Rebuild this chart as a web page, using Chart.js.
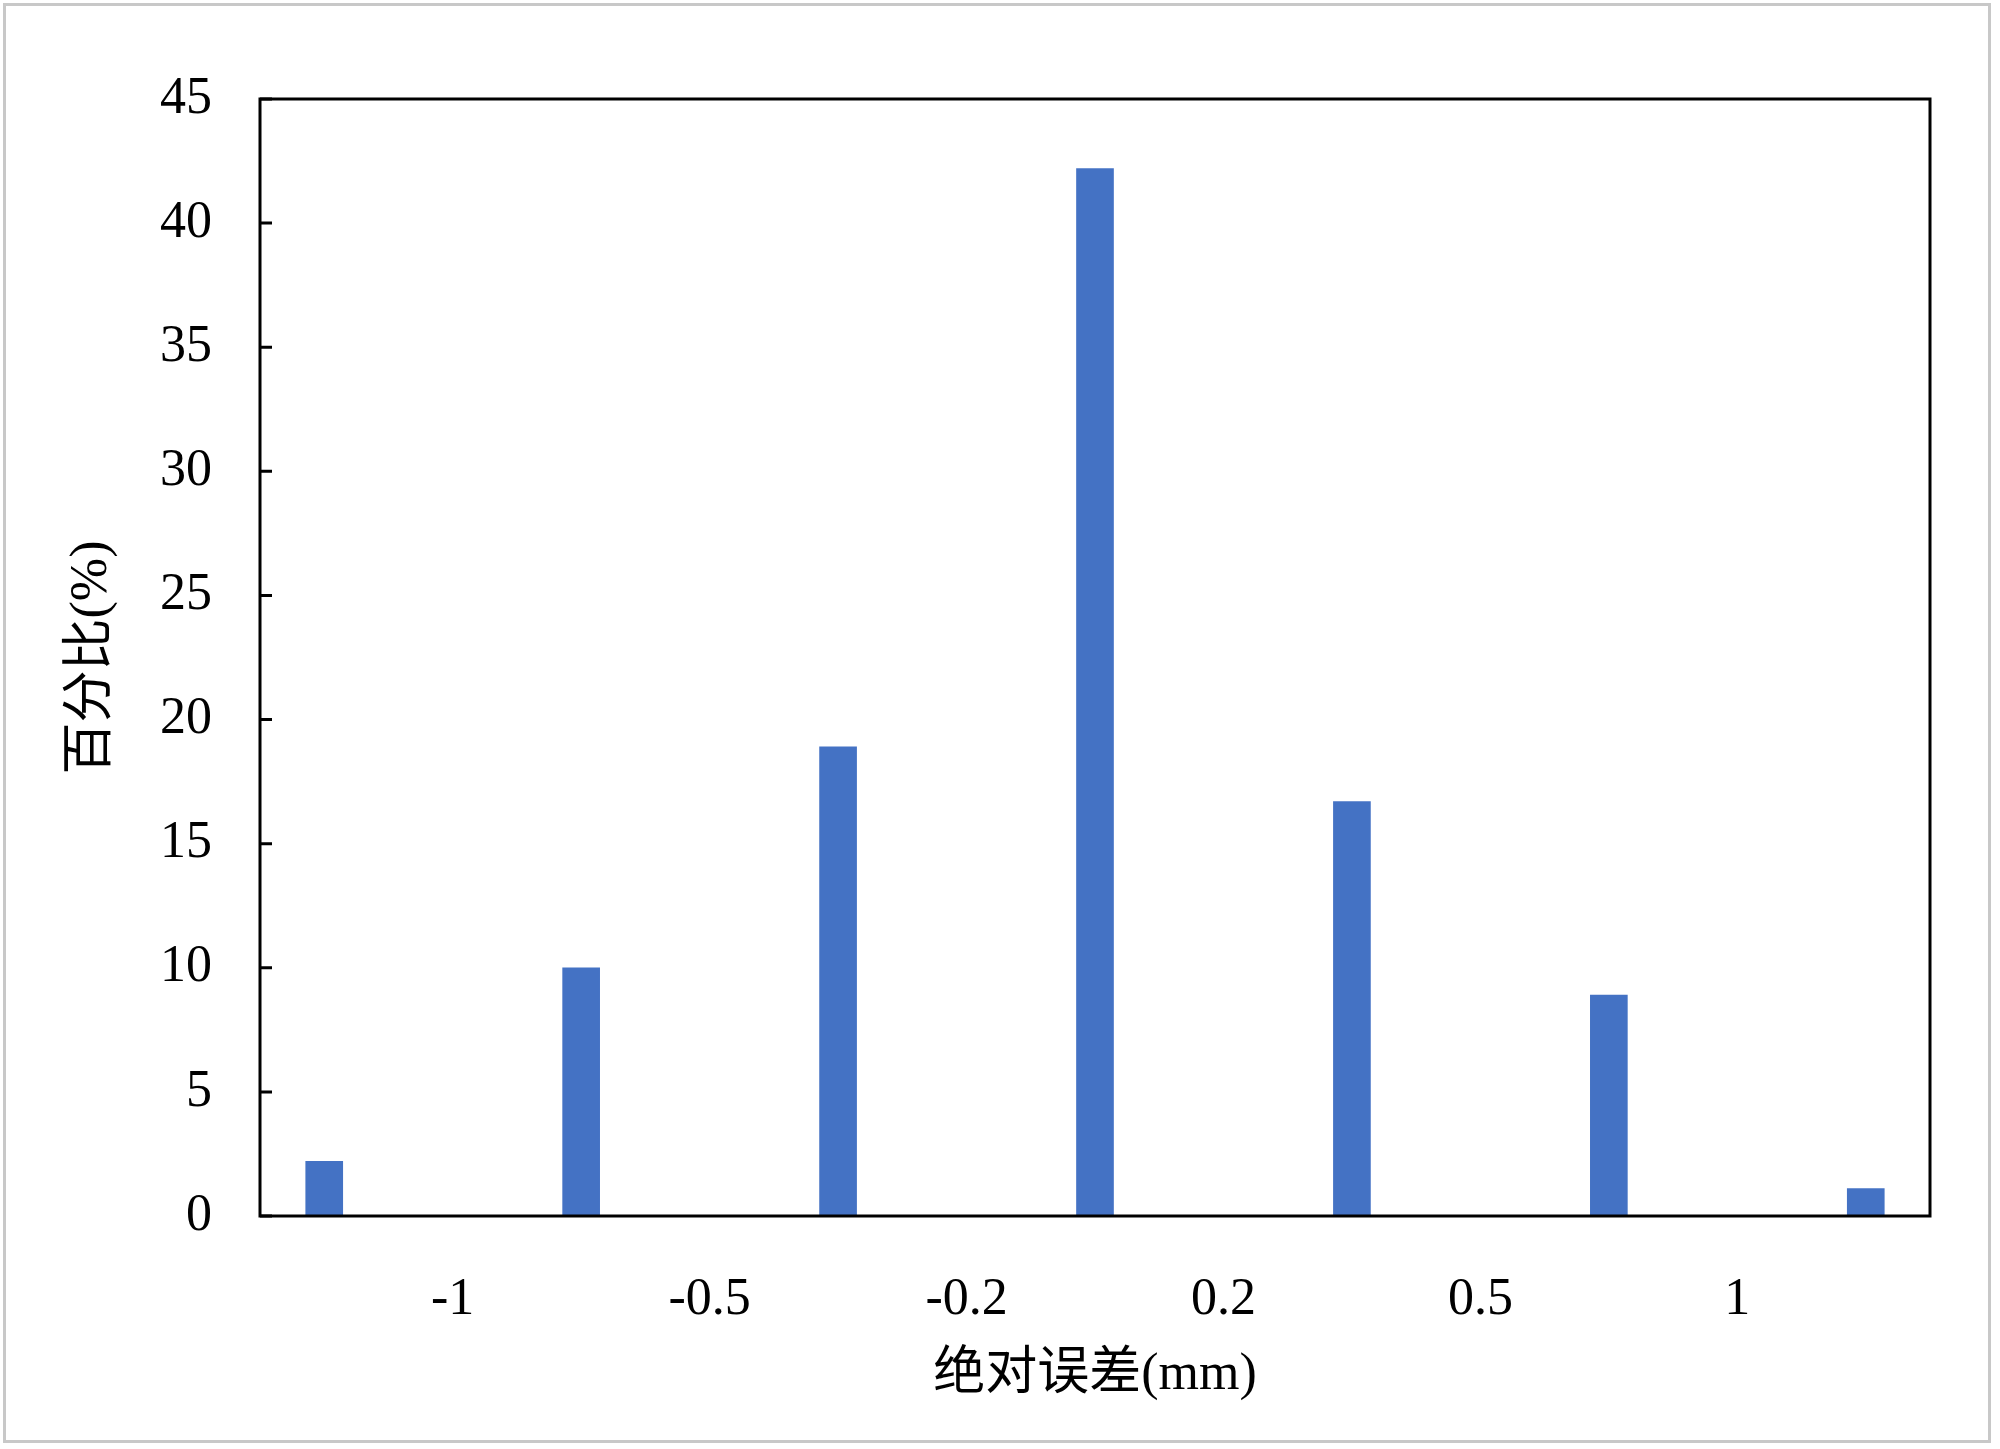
<!DOCTYPE html>
<html>
<head>
<meta charset="utf-8">
<script src="https://cdn.jsdelivr.net/npm/chart.js@4.4.1/dist/chart.umd.min.js"></script>
<style>
  body { margin: 0; background: #fff; }
  #wrap { width: 2000px; height: 1449px; }
</style>
</head>
<body>
<div id="wrap"><canvas id="myChart"></canvas></div>
<script>
// bin edge labels (drawn between the bars)
const edgeLabels = ['-1', '-0.5', '-0.2', '0.2', '0.5', '1'];
// percentage in each bin
const percents = [2.2, 10.0, 18.9, 42.2, 16.7, 8.9, 1.1];
const yTicks = [0, 5, 10, 15, 20, 25, 30, 35, 40, 45];

const serif = "'Liberation Serif', 'Times New Roman', 'Noto Sans CJK SC', serif";

const frame = {
  id: 'frame',
  beforeDraw(chart) {
    const ctx = chart.ctx;
    ctx.save();
    ctx.fillStyle = '#fff';
    ctx.fillRect(0, 0, chart.width, chart.height);
    ctx.strokeStyle = '#c8c8c8';
    ctx.lineWidth = 3;
    ctx.strokeRect(4.5, 4.5, chart.width - 15, chart.height - 12);
    ctx.restore();
  },
  afterDraw(chart) {
    const ctx = chart.ctx;
    const a = chart.chartArea;
    const y = chart.scales.y;
    ctx.save();
    ctx.strokeStyle = '#000';
    ctx.lineWidth = 3;
    ctx.strokeRect(a.left, a.top, a.right - a.left, a.bottom - a.top);
    // inner tick marks on the y axis
    ctx.beginPath();
    y.ticks.forEach(t => {
      const py = y.getPixelForValue(t.value);
      ctx.moveTo(a.left, py);
      ctx.lineTo(a.left + 12, py);
    });
    ctx.stroke();
    ctx.restore();
  }
};

const data = {
  datasets: [
    {
      label: '百分比',
      backgroundColor: '#4472C4',
      borderWidth: 0,
      barThickness: 37,
      data: percents.map((v, i) => ({ x: i + 1, y: v }))
    }
  ]
};

let myChart = new Chart(
  document.getElementById('myChart'),
  {
    type: 'bar',
    data: data,
    plugins: [frame],
    options: {
      responsive: true,
      maintainAspectRatio: false,
      animation: false,
      layout: { padding: { left: 0, top: 99, right: 70, bottom: 0 } },
      plugins: {
        legend: false,
        tooltip: { enabled: false }
      },
      scales: {
        x: {
          type: 'linear',
          offset: false,
          min: 0.75,
          max: percents.length + 0.25,
          afterBuildTicks: s => {
            s.ticks = edgeLabels.map((l, i) => ({ value: i + 1.5 }));
          },
          afterFit: s => { s.height = 233; },
          grid: { display: false },
          border: { display: false },
          ticks: {
            color: '#000',
            padding: 45,
            maxRotation: 0,
            autoSkip: false,
            font: { family: serif, size: 52 },
            callback: v => edgeLabels[Math.round(v - 1.5)]
          },
          title: {
            display: true,
            text: '绝对误差(mm)',
            color: '#000',
            font: { family: serif, size: 52 },
            padding: { top: 0, bottom: 42 }
          }
        },
        y: {
          min: 0,
          max: 45,
          afterBuildTicks: s => { s.ticks = yTicks.map(v => ({ value: v })); },
          afterFit: s => { s.width = 260; },
          grid: { display: false },
          border: { display: false },
          ticks: {
            color: '#000',
            padding: 40,
            font: { family: serif, size: 52 }
          },
          title: {
            display: true,
            text: '百分比(%)',
            color: '#000',
            font: { family: serif, size: 52 },
            padding: { top: 61, bottom: 0 }
          }
        }
      }
    }
  }
);
</script>
</body>
</html>
